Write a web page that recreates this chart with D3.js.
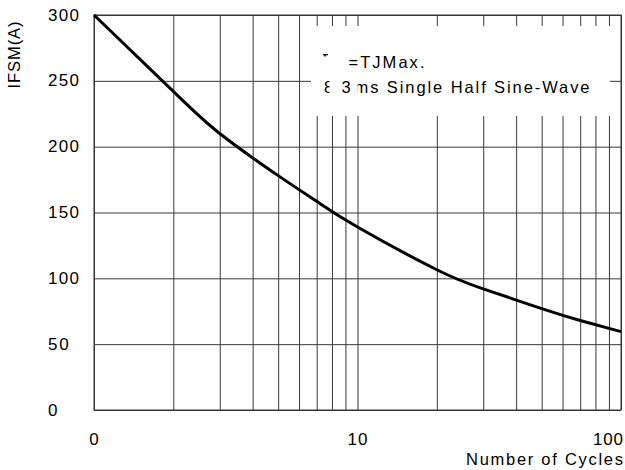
<!DOCTYPE html>
<html>
<head>
<meta charset="utf-8">
<script src="https://cdn.jsdelivr.net/npm/d3@7"></script>
<style>
  body { margin: 0; background: #fff; }
  text { font-family: "Liberation Sans", Arial, sans-serif; fill: #000; }
</style>
</head>
<body>
<div id="chart"></div>
<script>
// surge current vs number of cycles
const cycles = [1, 2, 3, 5, 7, 10, 20, 30, 50, 70, 100];
const ifsm = [300, 242, 210, 178, 158.5, 139, 106.5, 92, 77, 68, 59.5];

const yTicks = [0, 50, 100, 150, 200, 250, 300];
const xGrid = [1, 2, 3, 4, 5, 6, 7, 8, 9, 10, 20, 30, 40, 50, 60, 70, 80, 90, 100];
const xTickValues = [1, 10, 100];
const xTickLabels = ["0", "10", "100"];

const W = 625, H = 470;
const svg = d3.select("#chart").append("svg")
    .attr("width", W)
    .attr("height", H);

const x = d3.scaleLog().domain([1, 100]).range([94, 621]);
const y = d3.scaleLinear().domain([0, 300]).range([410, 15]);

// grid
svg.append("g")
    .attr("transform", "translate(0,410)")
    .call(d3.axisBottom(x).tickValues(xGrid).tickSize(-395).tickFormat(""))
    .call(g => g.select(".domain").remove())
    .selectAll("line").attr("stroke", "#3a3a3a");
svg.append("g")
    .attr("transform", "translate(94,0)")
    .call(d3.axisLeft(y).tickValues(yTicks).tickSize(-527).tickFormat(""))
    .call(g => g.select(".domain").remove())
    .selectAll("line").attr("stroke", "#3a3a3a");

svg.append("rect")
    .attr("x", x(1)).attr("y", y(300))
    .attr("width", x(100) - x(1)).attr("height", y(0) - y(300))
    .attr("fill", "none").attr("stroke", "#333");

// tick labels
svg.append("g").selectAll("text")
    .data(yTicks)
    .join("text")
    .attr("x", 48)
    .attr("y", d => y(d) + 5.5)
    .attr("font-size", 17)
    .attr("textLength", d => String(d).length * 10.3)
    .text(d => d);

svg.append("g").selectAll("text")
    .data(xTickValues)
    .join("text")
    .attr("x", (d, i) => i == 2 ? 623 : x(d))
    .attr("y", 445)
    .attr("text-anchor", (d, i) => i == 2 ? "end" : "middle")
    .attr("font-size", 17)
    .attr("textLength", (d, i) => xTickLabels[i].length * 10)
    .text((d, i) => xTickLabels[i]);

svg.append("text")
    .attr("x", 623).attr("y", 464.5)
    .attr("text-anchor", "end")
    .attr("font-size", 16.5)
    .attr("textLength", 157)
    .text("Number of Cycles");

svg.append("text")
    .attr("transform", "translate(20,55) rotate(-90)")
    .attr("text-anchor", "middle")
    .attr("font-size", 16.5)
    .attr("textLength", 67)
    .text("IFSM(A)");

// curve
const line = d3.line()
    .x((d, i) => x(cycles[i]))
    .y(d => y(d))
    .curve(d3.curveNatural);
svg.append("path")
    .datum(ifsm)
    .attr("d", line)
    .attr("fill", "none")
    .attr("stroke", "#000")
    .attr("stroke-width", 3);

// note box
svg.append("rect")
    .attr("x", 311).attr("y", 26)
    .attr("width", 299).attr("height", 90)
    .attr("fill", "#fff");

const defs = svg.append("defs");
defs.append("clipPath").attr("id", "clipT")
    .append("rect").attr("x", 323).attr("y", 52).attr("width", 5).attr("height", 4.5);
const c2 = defs.append("clipPath").attr("id", "clip2");
c2.append("rect").attr("x", 311).attr("y", 70).attr("width", 18.5).attr("height", 30);
c2.append("rect").attr("x", 338).attr("y", 70).attr("width", 16).attr("height", 30);
c2.append("rect").attr("x", 357.5).attr("y", 70).attr("width", 250).attr("height", 30);

svg.append("text")
    .attr("x", 320).attr("y", 66)
    .attr("font-size", 16)
    .attr("clip-path", "url(#clipT)")
    .text("T");
svg.append("text")
    .attr("x", 348.5).attr("y", 67.5)
    .attr("font-size", 16.5)
    .attr("textLength", 76)
    .text("=TJMax.");

const note2 = svg.append("text")
    .attr("y", 92.5)
    .attr("font-size", 16.5)
    .attr("clip-path", "url(#clip2)");
note2.append("tspan").attr("x", 324).text("8.");
note2.append("tspan").attr("x", 341.5).text("3");
note2.append("tspan").attr("x", 354.5).attr("textLength", 235).text("ms Single Half Sine-Wave");
</script>
</body>
</html>
